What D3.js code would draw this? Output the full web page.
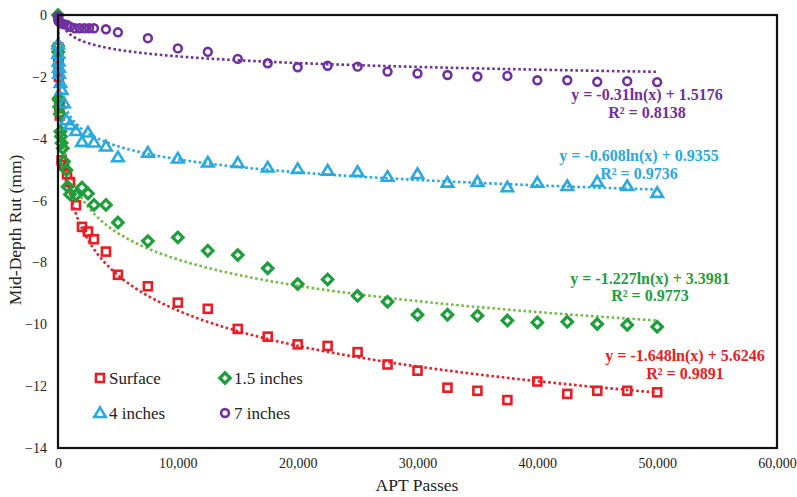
<!DOCTYPE html>
<html>
<head>
<meta charset="utf-8">
<script src="https://cdn.jsdelivr.net/npm/d3@7"></script>
<style>
  html, body { margin: 0; padding: 0; background: #fff; }
  svg { display: block; font-family: "Liberation Serif", "Times New Roman", serif; }
</style>
</head>
<body>
<svg id="chart" width="797" height="497"></svg>
<script>
// Mid-depth rut development under APT loading, four depths, with log trend lines.
const seriesNames = ["Surface", "1.5 inches", "4 inches", "7 inches"];

const lateX = [7500, 10000, 12500, 15000, 17500, 20000, 22500, 25000, 27500, 30000,
               32500, 35000, 37500, 40000, 42500, 45000, 47500, 50000];

const surfaceX = [10, 20, 30, 50, 75, 100, 150, 300, 500, 750, 1000,
                  1500, 2000, 2500, 3000, 4000, 5000].concat(lateX);
const surfaceY = [-1.05, -1.4, -1.5, -1.85, -2.0, -2.95, -3.25, -4.7, -4.85, -5.15, -5.4,
                  -6.15, -6.85, -7.0, -7.25, -7.65, -8.4,
                  -8.77, -9.3, -9.5, -10.15, -10.4, -10.65, -10.7, -10.9, -11.3, -11.5,
                  -12.05, -12.15, -12.45, -11.85, -12.25, -12.15, -12.15, -12.2];

const in15X = [0, 10, 25, 50, 75, 100, 150, 200, 250, 300, 400, 500, 700, 800, 1000, 1500,
               2000, 2500, 3000, 4000, 5000].concat(lateX);
const in15Y = [0, -1.0, -1.2, -2.7, -2.75, -2.97, -3.2, -3.77, -3.93, -4.14, -4.31, -4.74,
               -5.01, -5.55, -5.8, -5.82,
               -5.58, -5.77, -6.14, -6.14, -6.71,
               -7.31, -7.19, -7.62, -7.76, -8.19, -8.7, -8.55, -9.08, -9.27, -9.69,
               -9.69, -9.72, -9.88, -9.94, -9.92, -9.99, -10.02, -10.08];

const in4X = [10, 25, 50, 75, 100, 200, 300, 500, 700, 1000, 1500, 2000, 2500, 3000,
              4000, 5000].concat(lateX);
const in4Y = [-0.95, -1.25, -1.5, -1.7, -1.9, -2.2, -2.42, -2.85, -3.4, -3.55, -3.75,
              -4.1, -3.8, -4.12, -4.25, -4.6,
              -4.45, -4.64, -4.77, -4.78, -4.93, -4.98, -5.03, -5.07, -5.23, -5.14,
              -5.42, -5.39, -5.57, -5.42, -5.53, -5.39, -5.53, -5.75];

const in7X = [0, 10, 25, 50, 100, 200, 300, 500, 750, 1000, 1400, 1800, 2200, 2600, 3000,
              4000, 5000].concat(lateX);
const in7Y = [-0.05, -0.1, -0.15, -0.2, -0.22, -0.25, -0.28, -0.3, -0.32, -0.38,
              -0.43, -0.43, -0.43, -0.43, -0.43, -0.46, -0.56,
              -0.75, -1.08, -1.19, -1.42, -1.56, -1.69, -1.64, -1.67, -1.83, -1.89,
              -1.94, -1.99, -1.97, -2.11, -2.11, -2.16, -2.14, -2.17];

// Logarithmic fits: y = a ln(x) + b
const fitA = [-1.648, -1.227, -0.608, -0.31];
const fitB = [5.6246, 3.3981, 0.9355, 1.5176];
const fitR2 = ["0.9891", "0.9773", "0.9736", "0.8138"];
const fitLabels = ["y = -1.648ln(x) + 5.6246", "y = -1.227ln(x) + 3.3981",
                   "y = -0.608ln(x) + 0.9355", "y = -0.31ln(x) + 1.5176"];

const xTicks = [0, 10000, 20000, 30000, 40000, 50000, 60000];
const yTicks = [0, -2, -4, -6, -8, -10, -12, -14];

// Styling
const markerColors = ["#ec1c24", "#1f9e3c", "#29a9e1", "#7030a0"];
const trendColors = ["#ec1c24", "#72bd44", "#29a9e1", "#7030a0"];
const shapes = ["square", "diamond", "triangle", "circle"];
// label centre (px) and baselines for the fit equations
const eqPos = [[685, 361, 379], [650, 284, 301], [639, 161, 179], [647, 100, 118]];

const svg = d3.select("#chart");
const plot = { left: 58, top: 15, right: 777, bottom: 448 };

const x = d3.scaleLinear().domain([0, 60000]).range([plot.left, plot.right]);
const y = d3.scaleLinear().domain([0, -14]).range([plot.top, plot.bottom]);

svg.append("defs").append("clipPath").attr("id", "plotClip")
  .append("rect")
  .attr("x", plot.left).attr("y", plot.top)
  .attr("width", plot.right - plot.left).attr("height", plot.bottom - plot.top);

// Axes (labels only, no tick marks)
const xAxis = d3.axisBottom(x).tickValues(xTicks).tickSize(0).tickPadding(10)
  .tickFormat(d => d === 0 ? "0" : d3.format(",")(d));
svg.append("g").attr("transform", `translate(0,${plot.bottom})`).call(xAxis)
  .call(g => g.select(".domain").remove())
  .selectAll("text").attr("font-size", 14).attr("font-family", "Liberation Serif")
  .attr("fill", "#222");

const yAxis = d3.axisLeft(y).tickValues(yTicks).tickSize(0).tickPadding(11)
  .tickFormat(d => d3.format("d")(d));
svg.append("g").attr("transform", `translate(${plot.left},0)`).call(yAxis)
  .call(g => g.select(".domain").remove())
  .selectAll("text").attr("font-size", 14).attr("font-family", "Liberation Serif")
  .attr("fill", "#222");

// Axis titles
svg.append("text").attr("x", 417).attr("y", 491).attr("text-anchor", "middle")
  .attr("font-size", 17.5).attr("fill", "#222").text("APT Passes");
svg.append("text").attr("transform", "translate(21,230) rotate(-90)")
  .attr("text-anchor", "middle").attr("font-size", 17.5).attr("fill", "#222")
  .text("Mid-Depth Rut (mm)");

const seriesX = [surfaceX, in15X, in4X, in7X];
const seriesY = [surfaceY, in15Y, in4Y, in7Y];

// Trend lines
const trendX = d3.range(0, 601).map(i => 10 * Math.pow(5000, i / 600));
const line = d3.line().x(d => x(d[0])).y(d => y(d[1]));
const trendG = svg.append("g").attr("clip-path", "url(#plotClip)");
seriesNames.forEach((name, i) => {
  const pts = trendX.map(v => [v, fitA[i] * Math.log(v) + fitB[i]])
    .filter(p => p[1] < 1.5);
  trendG.append("path").datum(pts).attr("d", line)
    .attr("fill", "none").attr("stroke", trendColors[i])
    .attr("stroke-width", 2.6).attr("stroke-dasharray", "2.6,2.6");
});

// Marker drawing
function marker(g, shape, cx, cy, color) {
  const sw = 2.6;
  if (shape === "square") {
    g.append("rect").attr("x", cx - 4).attr("y", cy - 4).attr("width", 8).attr("height", 8)
      .attr("fill", "none").attr("stroke", color).attr("stroke-width", sw);
  } else if (shape === "diamond") {
    const r = 5.2;
    g.append("path").attr("d", `M${cx},${cy - r}L${cx + r},${cy}L${cx},${cy + r}L${cx - r},${cy}Z`)
      .attr("fill", "none").attr("stroke", color).attr("stroke-width", 3.2);
  } else if (shape === "triangle") {
    const h = 9.6, w = 11.5;
    g.append("path")
      .attr("d", `M${cx},${cy - h * 0.58}L${cx + w / 2},${cy + h * 0.42}L${cx - w / 2},${cy + h * 0.42}Z`)
      .attr("fill", "none").attr("stroke", color).attr("stroke-width", sw)
      .attr("stroke-linejoin", "miter");
  } else {
    g.append("circle").attr("cx", cx).attr("cy", cy).attr("r", 3.9)
      .attr("fill", "none").attr("stroke", color).attr("stroke-width", sw);
  }
}

const markG = svg.append("g");
seriesNames.forEach((name, i) => {
  const g = markG.append("g").attr("class", "series");
  seriesX[i].forEach((v, j) => marker(g, shapes[i], x(v), y(seriesY[i][j]), markerColors[i]));
});

// Plot frame
svg.append("rect")
  .attr("x", plot.left).attr("y", plot.top)
  .attr("width", plot.right - plot.left).attr("height", plot.bottom - plot.top)
  .attr("fill", "none").attr("stroke", "#111").attr("stroke-width", 2.2);

// Fit equations
seriesNames.forEach((name, i) => {
  const [cx, b1, b2] = eqPos[i];
  const t = svg.append("g").attr("fill", markerColors[i]).attr("font-weight", "bold")
    .attr("font-size", 16).attr("text-anchor", "middle");
  t.append("text").attr("x", cx).attr("y", b1).text(fitLabels[i]);
  t.append("text").attr("x", cx).attr("y", b2).text("R² = " + fitR2[i]);
});

// Legend
const legendPos = [[100, 378], [225, 378], [100, 413], [225, 413]];
const legend = svg.append("g");
seriesNames.forEach((name, i) => {
  const [lx, ly] = legendPos[i];
  marker(legend, shapes[i], lx, ly, markerColors[i]);
  legend.append("text").attr("x", lx + 9).attr("y", ly + 6)
    .attr("font-size", 17).attr("fill", "#222").text(name);
});
</script>
</body>
</html>
